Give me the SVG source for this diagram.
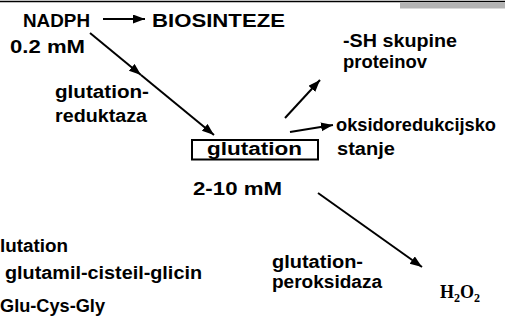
<svg xmlns="http://www.w3.org/2000/svg" width="505" height="324" viewBox="0 0 505 324">
<defs>
<style>
.t{font-family:"Liberation Sans",Arial,sans-serif;font-weight:bold;font-size:18px;fill:#000}
.s{font-family:"Liberation Serif",serif;font-weight:bold;font-size:18px;fill:#000}
.ln{stroke:#000;stroke-width:2;fill:none}
</style>
<marker id="ah" markerUnits="userSpaceOnUse" markerWidth="13" markerHeight="10" refX="12" refY="4.5" orient="auto">
<path d="M0,0 L12,4.5 L0,9 z" fill="#000"/>
</marker>
</defs>
<rect width="505" height="324" fill="#fff"/>
<line x1="0" y1="1.5" x2="505" y2="1.5" stroke="#000" stroke-width="1.5"/>
<rect x="400" y="2.2" width="105" height="6.3" fill="#b3b3b3"/>
<g id="connectors">
<line class="ln" x1="103" y1="19" x2="145" y2="19" marker-end="url(#ah)"/>
<line class="ln" x1="90" y1="33" x2="141" y2="75" marker-end="url(#ah)"/>
<line class="ln" x1="141" y1="75" x2="214" y2="135" marker-end="url(#ah)"/>
<line class="ln" x1="285" y1="118" x2="320" y2="80" marker-end="url(#ah)"/>
<line class="ln" x1="290" y1="132" x2="333" y2="125" marker-end="url(#ah)"/>
<line class="ln" x1="318" y1="193" x2="422" y2="267" marker-end="url(#ah)"/>
</g>
<g id="nadph">
<text class="t" x="23" y="27" textLength="67" lengthAdjust="spacingAndGlyphs">NADPH</text>
<text class="t" x="10" y="53" textLength="75" lengthAdjust="spacingAndGlyphs">0.2 mM</text>
</g>
<g id="biosinteze">
<text class="t" x="152" y="27" textLength="133" lengthAdjust="spacingAndGlyphs">BIOSINTEZE</text>
</g>
<g id="reduktaza">
<text class="t" x="55" y="98" textLength="94" lengthAdjust="spacingAndGlyphs">glutation-</text>
<text class="t" x="55" y="122" textLength="92" lengthAdjust="spacingAndGlyphs">reduktaza</text>
</g>
<g id="glutation">
<rect x="192" y="140" width="126" height="19.5" fill="none" stroke="#000" stroke-width="2"/>
<text class="t" x="207" y="155" textLength="95" lengthAdjust="spacingAndGlyphs">glutation</text>
<text class="t" x="193" y="195" textLength="89" lengthAdjust="spacingAndGlyphs">2-10 mM</text>
</g>
<g id="sh">
<text class="t" x="343" y="47" textLength="114" lengthAdjust="spacingAndGlyphs">-SH skupine</text>
<text class="t" x="343" y="68" textLength="84" lengthAdjust="spacingAndGlyphs">proteinov</text>
</g>
<g id="oksido">
<text class="t" x="336" y="131" textLength="160" lengthAdjust="spacingAndGlyphs">oksidoredukcijsko</text>
<text class="t" x="337" y="155" textLength="58" lengthAdjust="spacingAndGlyphs">stanje</text>
</g>
<g id="peroksidaza">
<text class="t" x="272" y="268" textLength="91" lengthAdjust="spacingAndGlyphs">glutation-</text>
<text class="t" x="272" y="288" textLength="110" lengthAdjust="spacingAndGlyphs">peroksidaza</text>
</g>
<g id="h2o2">
<text class="s" x="440" y="298">H<tspan font-size="12" dy="4">2</tspan><tspan dy="-4">O</tspan><tspan font-size="12" dy="4">2</tspan></text>
</g>
<g id="info">
<text class="t" x="0" y="252" textLength="68" lengthAdjust="spacingAndGlyphs">lutation</text>
<text class="t" x="5" y="279" textLength="197" lengthAdjust="spacingAndGlyphs">glutamil-cisteil-glicin</text>
<text class="t" x="0" y="312" textLength="105" lengthAdjust="spacingAndGlyphs">Glu-Cys-Gly</text>
</g>
</svg>
